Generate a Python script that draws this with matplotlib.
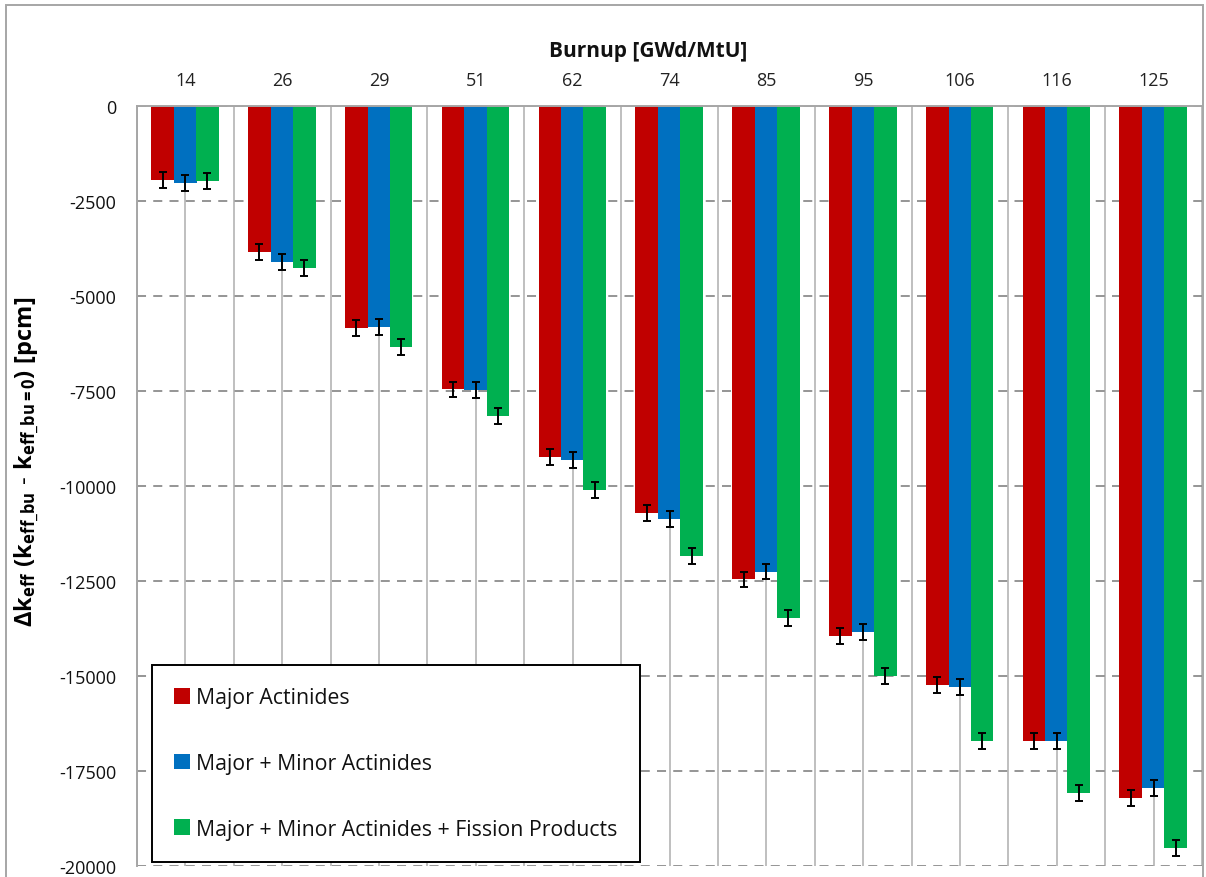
import matplotlib
matplotlib.use("Agg")
import matplotlib.pyplot as plt
import matplotlib.patches as mpatches
import numpy as np

plt.rcParams['font.family'] = ['Open Sans', 'DejaVu Sans']
plt.rcParams['mathtext.fontset'] = 'custom'
plt.rcParams['mathtext.rm'] = 'Open Sans'
plt.rcParams['mathtext.it'] = 'Open Sans'
plt.rcParams['mathtext.bf'] = 'Open Sans:bold'
plt.rcParams['mathtext.default'] = 'bf'

# ---- data ----
burnup = ["14", "26", "29", "51", "62", "74", "85", "95", "106", "116", "125"]
major_actinides = [-1940, -3850, -5850, -7460, -9230, -10720, -12460, -13940, -15240, -16710, -18210]
major_minor = [-2030, -4110, -5810, -7480, -9310, -10870, -12250, -13830, -15280, -16710, -17950]
major_minor_fp = [-1970, -4270, -6350, -8150, -10100, -11850, -13470, -14990, -16710, -18080, -19520]
err_major = [210] * 11
err_minor = [210] * 11
err_fp = [210] * 11
series_labels = ["Major Actinides", "Major + Minor Actinides",
                 "Major + Minor Actinides + Fission Products"]
colors = ["#C00000", "#0070C0", "#00B050"]
yticks = [0, -2500, -5000, -7500, -10000, -12500, -15000, -17500, -20000]

fig = plt.figure(figsize=(12.06, 8.78), dpi=100)
ax = fig.add_axes([137/1206, 1-867/878, (1202-137)/1206, (867-107)/878])

x = np.arange(len(burnup))
w = 0.235
series = [(major_actinides, err_major), (major_minor, err_minor), (major_minor_fp, err_fp)]
offsets = [-w, 0.0, w * 0.97]
for (vals, errs), off, c, lab in zip(series, offsets, colors, series_labels):
    ax.bar(x + off, vals, width=w, color=c, label=lab, zorder=2)
    ax.errorbar(x + off, vals, yerr=errs, fmt='none', ecolor='black',
                elinewidth=1.4, capsize=3.2, capthick=1.4, zorder=3)

ax.set_xlim(-0.5, len(burnup) - 0.5)
ax.set_ylim(-20000, 0)

ax.xaxis.tick_top()
ax.set_xticks(x)
ax.set_xticklabels(burnup, fontsize=13, color='#222222')
ax.set_xticks(np.arange(len(burnup) + 1) - 0.5, minor=True)
ax.tick_params(axis='x', which='both', length=0, pad=12)

ax.set_yticks(yticks)
ax.set_yticklabels([str(v) for v in yticks], fontsize=13, color='#111111')
ax.tick_params(axis='y', length=0, pad=15)

ax.grid(axis='x', which='both', color='#BFBFBF', linewidth=1.4, zorder=0)
ax.grid(axis='y', which='major', color='#8C8C8C', linewidth=1.3,
        linestyle=(0, (5, 4)), zorder=0)
ax.set_axisbelow(True)

for s in ['right', 'bottom']:
    ax.spines[s].set_visible(False)
ax.spines['left'].set_color('#A6A6A6')
ax.spines['left'].set_linewidth(1.4)
ax.spines['top'].set_color('#A6A6A6')
ax.spines['top'].set_linewidth(1.4)

ax.set_ylabel(r'$\Delta k_{eff}\ (k_{eff\_bu}\ \text{-}\ k_{eff\_bu=0})\ [pcm]$', fontsize=17)
ax.yaxis.set_label_coords((42-137)/1065, 1-(462-107)/760)

fig.text(648/1206, 1-51/878, "Burnup [GWd/MtU]", fontsize=15, fontweight='bold',
         ha='center', va='center', color='#111111')

handles = [mpatches.Patch(facecolor=c, edgecolor='none', label=l)
           for c, l in zip(colors, series_labels)]
leg = ax.legend(handles=handles, loc='upper left',
                bbox_to_anchor=(152/1206, 1-666/878), bbox_transform=fig.transFigure,
                fontsize=15.3, frameon=True, fancybox=False, framealpha=1,
                edgecolor='black', borderpad=1.05, labelspacing=2.1,
                handlelength=0.75, handleheight=0.75, handletextpad=0.28,
                borderaxespad=0)
leg.get_frame().set_linewidth(1.4)
for t in leg.get_texts():
    t.set_color('#111111')

border = mpatches.Rectangle((6/1206, -0.05), 1197/1206, 1-6/878+0.05,
                            transform=fig.transFigure, fill=False,
                            edgecolor='#A6A6A6', linewidth=1.4)
fig.patches.append(border)

fig.savefig("out.png", dpi=100)
